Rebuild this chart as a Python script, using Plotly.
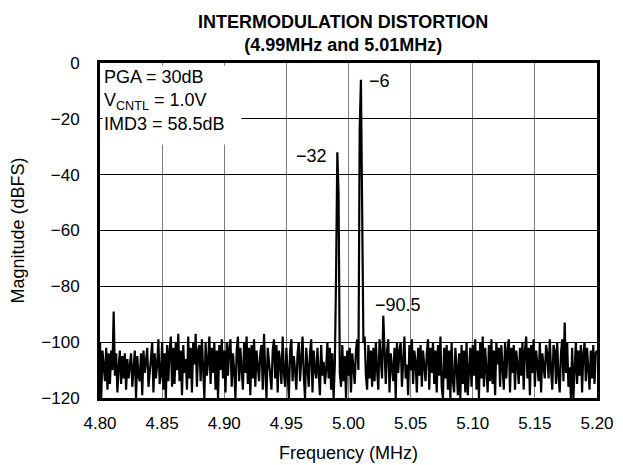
import plotly.graph_objects as go

# FFT spectrum, sampled every 1 kHz from 4.80 MHz to 5.20 MHz
freq_start = 4.80
freq_step = 0.001

magnitude_dbfs = [
    # 4.800 - 4.819
    -100, -120, -103, -108, -114, -102, -117, -104, -115, -103, -110, -89, -112, -104, -118, -109, -103, -115, -105, -113,
    # 4.820 - 4.839
    -104, -117, -106, -113, -108, -104, -116, -110, -103, -120, -105, -112, -114, -104, -119, -103, -111, -107, -102, -116,
    # 4.840 - 4.859
    -109, -106, -100, -118, -104, -113, -108, -99, -115, -112, -100, -117, -104, -120, -101, -114, -103, -98, -116, -102,
    # 4.860 - 4.879
    -115, -100, -110, -97, -114, -103, -119, -101, -111, -106, -117, -98, -113, -102, -118, -100, -108, -97, -116, -103,
    # 4.880 - 4.899
    -101, -114, -99, -110, -120, -100, -112, -107, -98, -115, -102, -111, -100, -117, -103, -120, -101, -110, -99, -113,
    # 4.900 - 4.919
    -103, -118, -100, -112, -102, -99, -116, -104, -110, -120, -103, -98, -114, -102, -109, -117, -100, -111, -98, -115,
    # 4.920 - 4.939
    -102, -119, -101, -113, -99, -116, -103, -108, -114, -104, -101, -117, -97, -110, -120, -102, -106, -112, -117, -103,
    # 4.940 - 4.959
    -99, -113, -101, -118, -103, -107, -115, -98, -111, -116, -102, -109, -120, -103, -99, -114, -105, -110, -117, -104,
    # 4.960 - 4.979
    -100, -114, -103, -98, -112, -120, -102, -108, -116, -104, -99, -118, -103, -110, -113, -102, -109, -119, -101, -112,
    # 4.980 - 4.999  (tone at 4.991)
    -107, -115, -110, -100, -113, -102, -117, -104, -120, -108, -76, -32, -47, -111, -116, -101, -114, -105, -120, -103,
    # 5.000 - 5.019  (tone at 5.010)
    -112, -102, -118, -104, -109, -115, -103, -99, -110, -24, -6, -64, -100, -98, -112, -117, -101, -113, -103, -116,
    # 5.020 - 5.039  (IMD3 at 5.028)
    -102, -114, -100, -110, -117, -99, -108, -113, -90.5, -101, -115, -103, -99, -118, -104, -109, -114, -102, -120, -100,
    # 5.040 - 5.059
    -111, -103, -100, -116, -104, -98, -113, -108, -119, -101, -110, -99, -115, -103, -107, -118, -102, -112, -101, -116,
    # 5.060 - 5.079
    -103, -109, -114, -104, -99, -117, -102, -111, -100, -115, -103, -118, -101, -112, -98, -116, -120, -102, -113, -101,
    # 5.080 - 5.099
    -117, -103, -120, -100, -114, -118, -102, -109, -119, -104, -120, -101, -115, -103, -118, -100, -119, -110, -102, -116,
    # 5.100 - 5.119
    -101, -112, -99, -117, -103, -120, -100, -113, -98, -116, -102, -110, -118, -101, -114, -99, -115, -103, -119, -100,
    # 5.120 - 5.139
    -108, -102, -116, -101, -110, -117, -100, -113, -103, -99, -118, -102, -111, -101, -117, -103, -108, -115, -102, -112,
    # 5.140 - 5.159
    -100, -117, -103, -98, -113, -102, -119, -101, -111, -99, -116, -103, -108, -114, -100, -118, -104, -110, -113, -101,
    # 5.160 - 5.179
    -104, -113, -99, -110, -117, -101, -103, -115, -100, -112, -118, -104, -99, -114, -93, -111, -100, -116, -109, -120,
    # 5.180 - 5.200
    -102, -120, -110, -100, -115, -103, -112, -101, -118, -104, -100, -114, -102, -109, -117, -103, -113, -101, -115, -104,
    -103,
]

x_ticks = [4.80, 4.85, 4.90, 4.95, 5.00, 5.05, 5.10, 5.15, 5.20]
y_ticks = [0, -20, -40, -60, -80, -100, -120]

# peak labels: (frequency, level, text)
peak_labels = [(4.991, -32, "\u221232"), (5.010, -6, "\u22126"), (5.028, -90.5, "\u221290.5")]

FONT = "Arial, Liberation Sans, sans-serif"

fig = go.Figure()
fig.add_trace(go.Scatter(
    x0=freq_start, dx=freq_step, y=magnitude_dbfs,
    mode="lines", line=dict(color="black", width=2.2),
    showlegend=False, hoverinfo="skip"
))

# label placement (shifts in px)
shifts = {
    "\u221232": dict(xanchor="right", xshift=-8, yshift=-4),
    "\u22126": dict(xanchor="left", xshift=6, yshift=-1),
    "\u221290.5": dict(xanchor="center", xshift=15, yshift=11),
}
for fx, lvl, txt in peak_labels:
    fig.add_annotation(x=fx, y=lvl, text=txt, showarrow=False,
                       font=dict(size=18, color="black", family=FONT),
                       yanchor="middle", **shifts[txt])

# condition text box (white background hides the grid)
fig.add_annotation(
    xref="paper", yref="paper", x=0, y=1, xanchor="left", yanchor="top",
    xshift=2, yshift=-2, width=136, height=76, align="left", valign="top",
    text="PGA = 30dB<br>V<sub>CNTL</sub> = 1.0V<br>IMD3 = 58.5dB",
    showarrow=False, bgcolor="white", borderpad=1,
    font=dict(size=18, color="black", family=FONT)
)

# chart title
fig.add_annotation(
    xref="paper", yref="paper", x=0.489, y=1, xanchor="center", yanchor="bottom",
    yshift=7, showarrow=False, align="center", borderpad=0,
    text="<b>INTERMODULATION DISTORTION<br>(4.99MHz and 5.01MHz)</b>",
    font=dict(size=18, color="black", family=FONT)
)

# page body has an 8px default margin, so the figure is sized to fit the window
fig.update_layout(
    width=615, height=457,
    margin=dict(l=92, r=26, t=55, b=67),
    paper_bgcolor="white", plot_bgcolor="white",
    font=dict(family=FONT, size=17, color="black"),
    xaxis=dict(
        range=[4.80, 5.20], tickvals=x_ticks, tickformat=".2f",
        showgrid=True, gridcolor="#7f7f7f", gridwidth=1,
        showline=True, linecolor="black", linewidth=3, mirror=True,
        zeroline=False, ticks="", ticklabelstandoff=8, automargin=False,
        title=dict(text="Frequency (MHz)", font=dict(size=18), standoff=14)
    ),
    yaxis=dict(
        range=[-120, 0], tickvals=y_ticks,
        showgrid=True, gridcolor="black", gridwidth=1,
        showline=True, linecolor="black", linewidth=3, mirror=True,
        zeroline=False, ticks="", ticklabelstandoff=14, automargin=False,
        title=dict(text="Magnitude (dBFS)", font=dict(size=18), standoff=14)
    ),
)

fig.write_html("out.html")
